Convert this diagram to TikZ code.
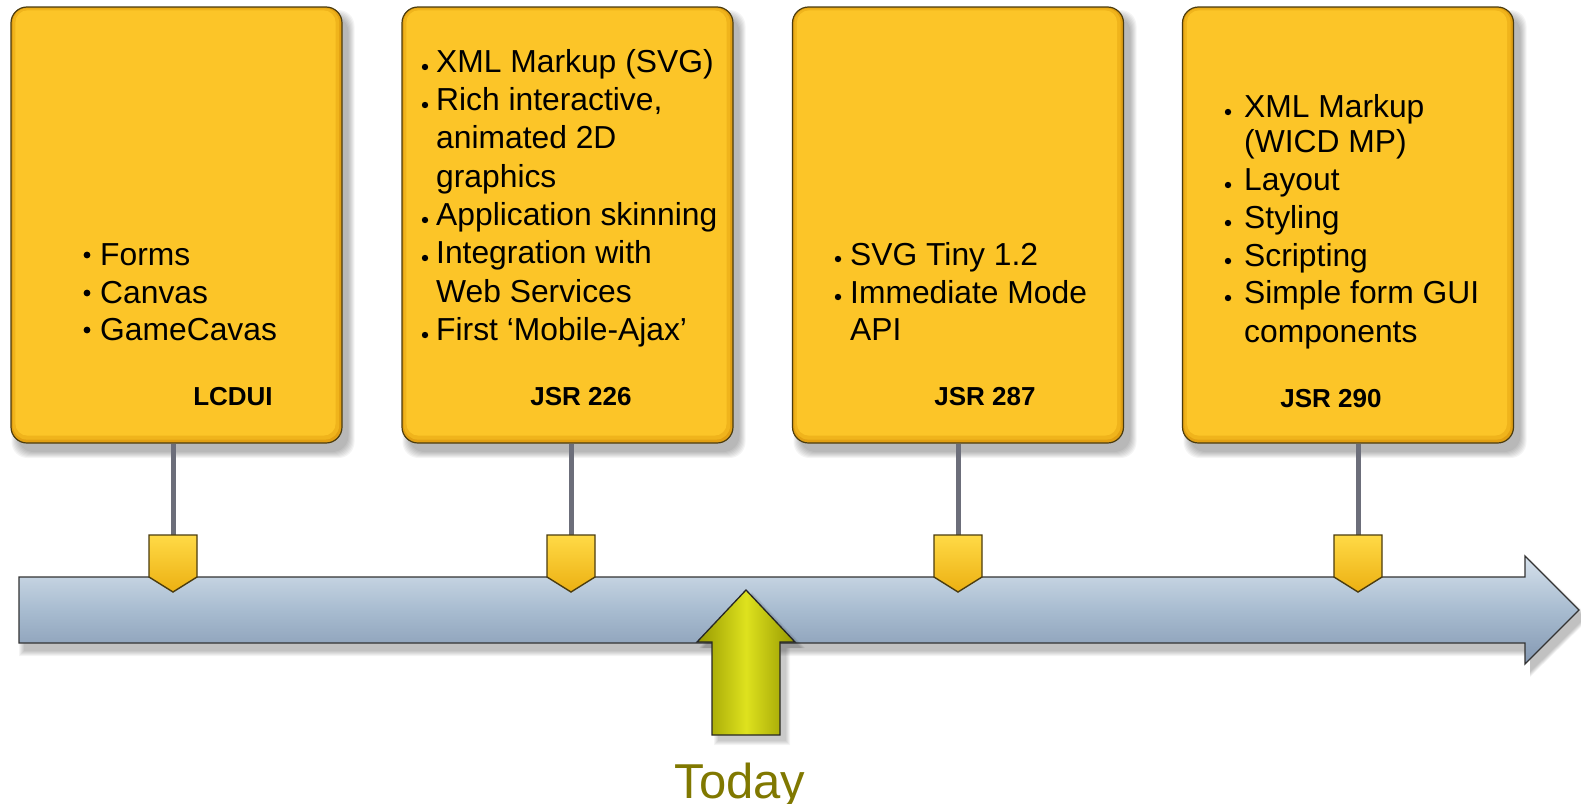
\documentclass[tikz,border=0pt]{standalone}
\usepackage{fontspec}
\setmainfont{Liberation Sans}
\usetikzlibrary{calc}

\definecolor{boxgold}{RGB}{252,197,40}
\definecolor{boxedge}{RGB}{226,160,18}
\definecolor{boxmid}{RGB}{240,180,28}
\definecolor{boxline}{RGB}{75,60,15}
\definecolor{stem}{RGB}{108,110,122}
\definecolor{bandtop}{RGB}{214,225,236}
\definecolor{bandmid}{RGB}{168,188,208}
\definecolor{bandbot}{RGB}{132,152,178}
\definecolor{todayfill}{RGB}{222,226,30}
\definecolor{todayedge}{RGB}{150,152,0}
\definecolor{todaytext}{RGB}{128,120,0}
\definecolor{pinlight}{RGB}{255,218,70}
\definecolor{pindark}{RGB}{236,176,18}

\tikzset{
  panel/.style={draw=boxline, line width=1.2pt, fill=boxedge, rounded corners=16pt,
                minimum width=331pt, minimum height=436pt, inner sep=0pt},
  txt/.style={anchor=base west, inner sep=0pt, font=\fontsize{31.8}{38}\selectfont},
  lab/.style={anchor=base, inner sep=0pt, font=\fontsize{26}{30}\selectfont\bfseries},
  stemline/.style={draw=stem, line width=5pt},
  pin/.style={draw=boxline, line width=1.4pt, top color=pinlight, bottom color=pindark, line join=miter},
  softshadow/.style={fill=black, opacity=0.045},
}

\begin{document}
\begin{tikzpicture}[x=1pt,y=-1pt]
\useasboundingbox (0,0) rectangle (1581,803);
\fill[white] (0,0) rectangle (1581,803);

% soft shadows under the four panels
\foreach \cx in {176,567,958,1348}{
  \foreach \k in {0,...,6}{
    \fill[softshadow, rounded corners=16pt]
      (\cx-165.5+7-\k, 7+9-\k) rectangle (\cx+165.5+7+\k, 443+9+\k);
  }
}

% soft shadow under the time band
\foreach \k in {0,...,5}{
  \fill[softshadow]
    (19+5-\k, 577+8-\k) -- (1525+5, 577+8-\k) -- (1525+5, 556+8-\k) -- (1580+5+\k, 610+8)
    -- (1525+5, 664+8+\k) -- (1525+5, 643+8+\k) -- (19+5-\k, 643+8+\k) -- cycle;
}

% pin positions (top centre of each pentagon marker)
\coordinate (m1) at (173,535);
\coordinate (m2) at (571,535);
\coordinate (m3) at (958,535);
\coordinate (m4) at (1358,535);

% panels
\node[panel] (box1) at (176.5,225) {};
\node[panel] (box2) at (567.5,225) {};
\node[panel] (box3) at (958,225) {};
\node[panel] (box4) at (1348,225) {};

% bevel: inner layers of each panel
\foreach \b in {box1,box2,box3,box4}{
  \fill[boxmid, rounded corners=14pt]
    ([shift={(2.5,2)}]\b.north west) rectangle ([shift={(-3.5,-4)}]\b.south east);
  \fill[boxgold, rounded corners=12pt]
    ([shift={(5,4)}]\b.north west) rectangle ([shift={(-7,-8)}]\b.south east);
}

% stems from panels down to the markers
\draw[stemline] (box1.south -| m1) -- (m1);
\draw[stemline] (box2.south -| m2) -- (m2);
\draw[stemline] (box3.south -| m3) -- (m3);
\draw[stemline] (box4.south -| m4) -- (m4);

% time band
\path[draw=black!80, line width=1.3pt, top color=bandtop, bottom color=bandbot, middle color=bandmid]
  (19,577) -- (1525,577) -- (1525,556) -- (1579,610) -- (1525,664) -- (1525,643) -- (19,643) -- cycle;

% pentagon markers
\foreach \m in {m1,m2,m3,m4}{
  \path[pin] ([shift={(-24,0)}]\m) -- ([shift={(24,0)}]\m) -- ([shift={(24,42)}]\m)
    -- ([shift={(0,57)}]\m) -- ([shift={(-24,42)}]\m) -- cycle;
}

% "Today" arrow
\foreach \k in {0,...,4}{
  \fill[softshadow]
    (746+6,590+6-\k) -- (795+6+\k,642+6) -- (780+6+\k,642+6) -- (780+6+\k,735+6+\k)
    -- (712+6-\k,735+6+\k) -- (712+6-\k,642+6) -- (697+6-\k,642+6) -- cycle;
}
\path[draw=black!85, line width=1.3pt, left color=todayedge, right color=todayedge, middle color=todayfill, line join=miter]
  (746,590) -- (795,642) -- (780,642) -- (780,735) -- (712,735) -- (712,642) -- (697,642) -- cycle;
\node[anchor=base, inner sep=0pt, text=todaytext, font=\fontsize{49}{52}\selectfont] (today) at (740,798) {Today};

% panel 1: LCDUI
\foreach \y in {265,303,340}{ \fill (87,\y-10) circle (3.4); }
\node[txt] (p1a) at (100,265) {Forms};
\node[txt] (p1b) at (100,303) {Canvas};
\node[txt] (p1c) at (100,340) {GameCavas};
\node[lab] (p1l) at (233,405) {LCDUI};

% panel 2: JSR 226
\foreach \y in {72,110,225,263,340}{ \fill (425,\y-5) circle (3.2); }
\node[txt] (p2a) at (436,72) {XML Markup (SVG)};
\node[txt] (p2b) at (436,110) {Rich interactive,};
\node[txt] (p2c) at (436,148) {animated 2D};
\node[txt] (p2d) at (436,187) {graphics};
\node[txt] (p2e) at (436,225) {Application skinning};
\node[txt] (p2f) at (436,263) {Integration with};
\node[txt] (p2g) at (436,302) {Web Services};
\node[txt] (p2h) at (436,340) {First ‘Mobile-Ajax’};
\node[lab] (p2l) at (581,405) {JSR 226};

% panel 3: JSR 287
\foreach \y in {265,303}{ \fill (838,\y-6) circle (3.2); }
\node[txt] (p3a) at (850,265) {SVG Tiny 1.2};
\node[txt] (p3b) at (850,303) {Immediate Mode};
\node[txt] (p3c) at (850,340) {API};
\node[lab] (p3l) at (985,405) {JSR 287};

% panel 4: JSR 290
\foreach \y in {117,190,228,266,303}{ \fill (1228,\y-5) circle (3.2); }
\node[txt] (p4a) at (1244,117) {XML Markup};
\node[txt] (p4b) at (1244,152) {(WICD MP)};
\node[txt] (p4c) at (1244,190) {Layout};
\node[txt] (p4d) at (1244,228) {Styling};
\node[txt] (p4e) at (1244,266) {Scripting};
\node[txt] (p4f) at (1244,303) {Simple form GUI};
\node[txt] (p4g) at (1244,342) {components};
\node[lab] (p4l) at (1331,407) {JSR 290};
\end{tikzpicture}
\end{document}
